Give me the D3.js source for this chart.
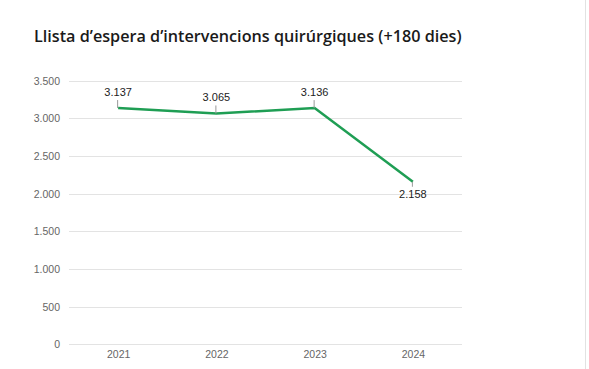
<!DOCTYPE html>
<html><head><meta charset="utf-8">
<script src="https://cdn.jsdelivr.net/npm/d3@7"></script>
<style>body{margin:0;background:#fff;}svg{display:block;}</style>
</head><body>
<svg id="c" width="589" height="369"></svg>
<script>
const title = "Llista d’espera d’intervencions quirúrgiques (+180 dies)";
const years = ["2021","2022","2023","2024"];
const values = [3137, 3065, 3136, 2158];
const yTicks = [0,500,1000,1500,2000,2500,3000,3500];

const svg = d3.select("#c");
const fmt = d3.formatLocale({decimal:",", thousands:".", grouping:[3], currency:["","€"]}).format(",d");

svg.append("line").attr("x1",585.5).attr("x2",585.5).attr("y1",0).attr("y2",369)
  .attr("stroke","#e2e2e2").attr("stroke-width",1);

svg.append("text").attr("x",34).attr("y",42).text(title)
  .attr("font-family","'Open Sans', 'Noto Sans', sans-serif").attr("font-weight",600)
  .attr("font-size",16.2).attr("fill","#1a1a1a");

const x = d3.scalePoint().domain(years).range([69,462]).padding(0.5);
const y = d3.scaleLinear().domain([0,3500]).range([344.3,80.7]);

const grid = svg.append("g");
grid.selectAll("line").data(yTicks).join("line")
  .attr("x1",69).attr("x2",462).attr("y1",d=>Math.round(y(d))+0.5).attr("y2",d=>Math.round(y(d))+0.5)
  .attr("stroke","#e3e3e3").attr("stroke-width",1);

const yAxis = d3.axisLeft(y).tickValues(yTicks).tickSize(0).tickPadding(0).tickFormat(d=>fmt(d));
const ga = svg.append("g").attr("transform","translate(60,0)").call(yAxis);
ga.select(".domain").remove();
ga.selectAll("text").attr("font-family","'Liberation Sans', Arial, sans-serif").attr("font-size",10.5).attr("fill","#666");

const xAxis = d3.axisBottom(x).tickSize(0).tickPadding(0);
const gx = svg.append("g").attr("transform","translate(0,351)").call(xAxis);
gx.select(".domain").remove();
gx.selectAll("text").attr("font-family","'Liberation Sans', Arial, sans-serif").attr("font-size",10.5).attr("fill","#666");

const line = d3.line().x((d,i)=>x(years[i])).y(d=>y(d));
svg.append("path").datum(values).attr("d",line).attr("fill","none")
  .attr("stroke","#1f9e54").attr("stroke-width",2.5).attr("stroke-linejoin","miter");

const labels = svg.append("g");
values.forEach((v,i)=>{
  const px = x(years[i]), py = y(v);
  const below = i === values.length-1;
  labels.append("line").attr("x1",px-0.5).attr("x2",px-0.5)
    .attr("y1",py).attr("y2",below? py+5 : py-8)
    .attr("stroke","#999").attr("stroke-width",1);
  labels.append("text").attr("x",px).attr("y",below? py+16 : py-12)
    .attr("text-anchor","middle").text(fmt(v))
    .attr("font-family","'Liberation Sans', Arial, sans-serif").attr("font-size",11).attr("fill","#222");
});
</script>
</body></html>
